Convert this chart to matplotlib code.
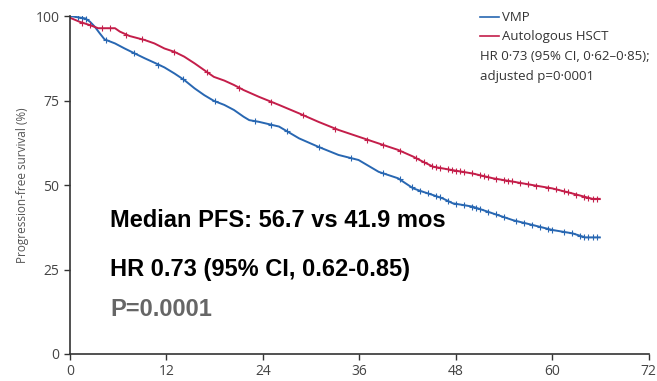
import numpy as np
import matplotlib
matplotlib.use("Agg")
import matplotlib.pyplot as plt

# Kaplan-Meier curves (months, % progression-free)
vmp_t = [0, 1.9, 2.5, 3.1, 3.7, 4.3, 5.6, 6.8, 8.0, 9.3, 10.5, 11.75, 13.0, 14.2, 15.5,
         16.7, 17.9, 19.2, 20.4, 21.6, 22.3, 23.5, 26.0, 28.5, 30.9, 33.4, 35.9, 38.4,
         40.8, 42.7, 43.9, 45.2, 46.4, 47.6, 50.1, 52.6, 55.1, 57.5, 60.0, 62.5, 64.1, 65.9]
vmp_s = [100, 99.3, 98.3, 96.8, 94.9, 93.1, 91.9, 90.4, 89.0, 87.5, 86.2, 84.8, 83.0, 81.1,
         78.6, 76.6, 74.9, 73.7, 72.2, 70.2, 69.2, 68.7, 67.3, 63.8, 61.3, 58.9, 57.4, 53.9,
         52.0, 49.0, 48.0, 47.0, 46.0, 44.6, 43.6, 41.6, 39.6, 38.2, 36.7, 35.7, 34.5, 34.5]

hsct_t = [0, 1.2, 2.5, 3.5, 5.6, 6.2, 7.4, 9.3, 10.5, 11.75, 13.0, 14.2, 15.5, 16.7, 17.9,
          19.2, 20.4, 21.6, 23.5, 26.0, 28.5, 30.9, 33.4, 35.9, 38.4, 40.8, 42.7, 43.9,
          45.2, 47.6, 50.1, 52.6, 55.1, 57.5, 60.0, 62.5, 65.0, 65.9]
hsct_s = [99.5, 98.3, 97.3, 96.4, 96.4, 95.4, 94.1, 92.9, 91.9, 90.4, 89.4, 88.0, 86.0,
          84.0, 82.0, 80.9, 79.6, 78.1, 76.1, 73.7, 71.2, 68.7, 66.3, 64.3, 62.3, 60.4,
          58.4, 56.9, 55.4, 54.4, 53.4, 52.0, 51.0, 50.0, 49.0, 47.5, 45.9, 45.9]

# censoring times (tick marks on the curves)
vmp_cens = [1, 1.5, 2, 4.5, 8, 11, 14, 18, 23, 25, 27, 31, 35, 39, 41, 42.5, 43.5, 44.5,
            45.5, 46, 47, 48, 49, 50, 50.5, 51, 52, 53, 54, 55.5, 56.5, 57.5, 58.5, 59.5,
            60, 61.5, 62.5, 63.5, 64, 64.5, 65, 65.5]
hsct_cens = [1.5, 2.5, 4, 5, 7, 9, 13, 17, 21, 25, 29, 33, 37, 39, 41, 43, 44, 45, 45.5,
             46, 47, 47.5, 48, 48.5, 49, 50, 51, 51.5, 52, 53, 54, 54.5, 55, 56, 57, 58,
             59.5, 60.5, 61.5, 62, 63, 64, 64.5, 65, 65.5]

xticks = [0, 12, 24, 36, 48, 60, 72]
yticks = [0, 25, 50, 75, 100]

blue = "#2867b2"
red = "#c41e4a"

fig = plt.figure(figsize=(6.57, 3.81), dpi=100)
ax = fig.add_axes([0.1065, 0.0709, 0.881, 0.887])

ax.plot(vmp_t, vmp_s, color=blue, lw=1.4)
ax.plot(hsct_t, hsct_s, color=red, lw=1.4)
ax.plot(vmp_cens, np.interp(vmp_cens, vmp_t, vmp_s), "+", color=blue, ms=4.5, mew=0.8)
ax.plot(hsct_cens, np.interp(hsct_cens, hsct_t, hsct_s), "+", color=red, ms=4.5, mew=0.8)

ax.set_xlim(0, 72)
ax.set_ylim(0, 100)
ax.set_xticks(xticks)
ax.set_yticks(yticks)
for s in ["top", "right"]:
    ax.spines[s].set_visible(False)
for s in ["left", "bottom"]:
    ax.spines[s].set_color("#333333")
    ax.spines[s].set_linewidth(1.2)
ax.tick_params(length=4, width=1, color="#333333", labelsize=10, labelcolor="#444444")
for lab in ax.get_xticklabels() + ax.get_yticklabels():
    lab.set_family("Open Sans")
ax.set_ylabel("Progression-free survival (%)", family="Open Sans", fontsize=8.5,
              color="#555555", labelpad=5)

# legend drawn as lines + text in the upper right
leg_font = dict(family="Open Sans", fontsize=9.5, color="#333333", transform=ax.transAxes)
ax.plot([0.709, 0.742], [0.997, 0.997], color=blue, lw=1.2, transform=ax.transAxes, clip_on=False)
ax.text(0.746, 0.997, "VMP", va="center", **leg_font)
ax.plot([0.709, 0.742], [0.94, 0.94], color=red, lw=1.2, transform=ax.transAxes, clip_on=False)
ax.text(0.746, 0.94, "Autologous HSCT", va="center", **leg_font)
ax.text(0.709, 0.88, "HR 0\u00b773 (95% CI, 0\u00b762\u20130\u00b785);", va="center", **leg_font)
ax.text(0.709, 0.82, "adjusted p=0\u00b70001", va="center", **leg_font)

big = dict(family="Liberation Sans", fontweight="bold", fontsize=17, transform=ax.transAxes)
ax.text(0.069, 0.396, "Median PFS: 56.7 vs 41.9 mos", va="center", color="black", **big)
ax.text(0.069, 0.249, "HR 0.73 (95% CI, 0.62-0.85)", va="center", color="black", **big)
ax.text(0.069, 0.131, "P=0.0001", va="center", color="#666666", **big)

fig.savefig("out.png", dpi=100)
